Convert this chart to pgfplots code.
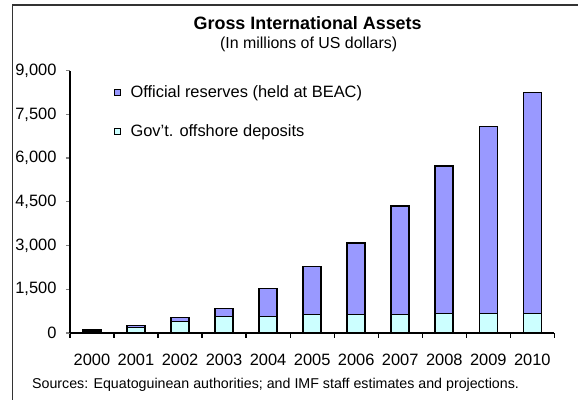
\documentclass[border=0pt]{standalone}
\usepackage{fontspec}
\setmainfont{Liberation Sans}
\usepackage{pgfplots}
\pgfplotsset{compat=1.18}
\definecolor{res}{HTML}{9999FF}
\definecolor{dep}{HTML}{CCFFFF}
\begin{document}
\begin{tikzpicture}
\path (0bp,0bp) rectangle (579bp,400bp);
\draw[line width=1.3bp, color=black!80] (12.5bp,0bp) -- (12.5bp,395bp) -- (579bp,395bp);
\node[font=\bfseries\fontsize{18}{20}\selectfont] at (308bp,377bp) {Gross International Assets};
\node[font=\fontsize{16}{18}\selectfont] at (309bp,355.5bp) {(In millions of US dollars)};
\node[anchor=west, font=\fontsize{14.3}{16}\selectfont, inner sep=0pt] at (32bp,15bp) {Sources: Equatoguinean authorities; and IMF staff estimates and projections.};
\begin{axis}[
  at={(70bp,66.7bp)}, anchor=south west,
  scale only axis, width=485bp, height=262.6bp,
  xmin=-0.5, xmax=10.5, ymin=0, ymax=9000,
  axis lines=left, axis line style={-, line width=1.2bp},
  ybar stacked, bar width=18bp,
  every axis plot post/.append style={draw=black, line width=1.6bp},
  xtick={0,...,10},
  xticklabels={2000,2001,2002,2003,2004,2005,2006,2007,2008,2009,2010},
  minor xtick={-0.5,0.5,...,10.5},
  ytick={0,1500,3000,4500,6000,7500,9000},
  yticklabels={0,{1,500},{3,000},{4,500},{6,000},{7,500},{9,000}},
  tick align=outside,
  major tick length=4bp, minor tick length=5bp,
  x tick style={draw=none},
  minor x tick style={draw=black, line width=1.2bp},
  y tick style={line width=1.2bp},
  tick label style={font=\fontsize{16.5}{18}\selectfont},
  /pgf/number format/assume math mode=true,
  xticklabel style={yshift=-14bp},
  yticklabel style={xshift=-6bp},
  reverse legend,
  legend cell align=left,
  legend style={draw=none, fill=none, at={(0.09,0.95)}, anchor=north west,
    font=\fontsize{16.5}{18}\selectfont, row sep=21bp, column sep=8bp, inner sep=0pt},
]
\addplot[fill=dep, draw=black, line width=1.6bp,
  legend image code/.code={\draw[fill=dep, draw=black, line width=0.9bp] (0bp,-3bp) rectangle (6bp,3bp);}]
  coordinates {(0,50) (1,190) (2,398) (3,569) (4,569) (5,627) (6,627) (7,627) (8,672) (9,672) (10,672)};
\addlegendentry{Gov't. offshore deposits}
\addplot[fill=res, draw=black, line width=1.6bp,
  legend image code/.code={\draw[fill=res, draw=black, line width=0.9bp] (0bp,-3bp) rectangle (6bp,3bp);}]
  coordinates {(0,60) (1,70) (2,126) (3,274) (4,960) (5,1656) (6,2458) (7,3736) (8,5062) (9,6409) (10,7574)};
\addlegendentry{Official reserves (held at BEAC)}
\end{axis}
\end{tikzpicture}
\end{document}
